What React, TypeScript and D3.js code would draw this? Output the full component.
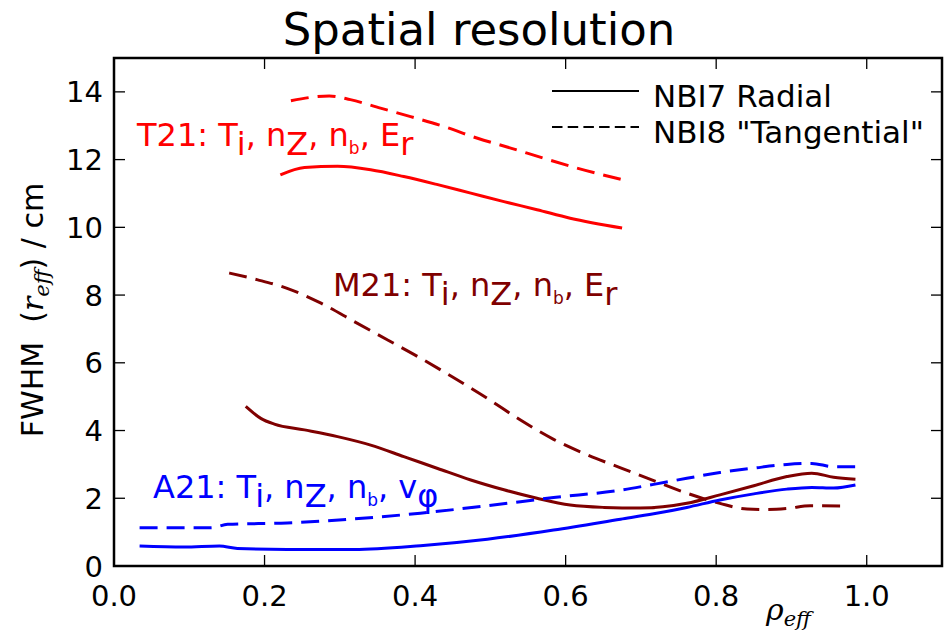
import React from "react";
import * as d3 from "d3";

// ---- data ----
const t21RadialRho = [0.221, 0.253, 0.297, 0.341, 0.385, 0.43, 0.474, 0.518, 0.562, 0.606, 0.675];
const t21RadialFwhm = [11.55, 11.77, 11.8, 11.7, 11.5, 11.26, 11.01, 10.76, 10.52, 10.27, 9.98];
const t21TangRho = [0.235, 0.286, 0.314, 0.354, 0.394, 0.438, 0.483, 0.527, 0.571, 0.615, 0.677];
const t21TangFwhm = [13.74, 13.88, 13.77, 13.52, 13.27, 12.98, 12.63, 12.34, 12.04, 11.75, 11.4];

const m21RadialRho = [0.175, 0.195, 0.213, 0.253, 0.297, 0.341, 0.385, 0.43, 0.474, 0.518, 0.562, 0.606, 0.651, 0.699, 0.761, 0.805, 0.85, 0.894, 0.927, 0.956, 0.985];
const m21RadialFwhm = [4.71, 4.36, 4.19, 4.02, 3.82, 3.57, 3.23, 2.88, 2.54, 2.25, 2.0, 1.8, 1.73, 1.71, 1.85, 2.1, 2.37, 2.64, 2.74, 2.62, 2.56];
const m21TangRho = [0.153, 0.191, 0.23, 0.275, 0.319, 0.363, 0.407, 0.452, 0.496, 0.54, 0.584, 0.629, 0.673, 0.717, 0.761, 0.805, 0.841, 0.867, 0.894, 0.925, 0.976];
const m21TangFwhm = [8.65, 8.45, 8.2, 7.76, 7.22, 6.68, 6.14, 5.55, 4.95, 4.31, 3.74, 3.28, 2.9, 2.52, 2.15, 1.85, 1.68, 1.67, 1.7, 1.78, 1.77];

const a21RadialRho = [0.034, 0.093, 0.14, 0.164, 0.23, 0.319, 0.407, 0.496, 0.584, 0.673, 0.717, 0.761, 0.805, 0.85, 0.894, 0.927, 0.956, 0.985];
const a21RadialFwhm = [0.59, 0.56, 0.59, 0.52, 0.49, 0.49, 0.6, 0.79, 1.06, 1.38, 1.54, 1.73, 1.95, 2.13, 2.27, 2.32, 2.3, 2.39];
const a21TangRho = [0.034, 0.129, 0.151, 0.23, 0.319, 0.407, 0.496, 0.584, 0.673, 0.717, 0.761, 0.805, 0.85, 0.894, 0.927, 0.956, 0.989];
const a21TangFwhm = [1.13, 1.13, 1.23, 1.27, 1.39, 1.56, 1.78, 2.02, 2.24, 2.41, 2.59, 2.76, 2.89, 3.0, 3.03, 2.93, 2.93];

const xTicks = [0.0, 0.2, 0.4, 0.6, 0.8, 1.0];
const yTicks = [0, 2, 4, 6, 8, 10, 12, 14];
const legendLabels = ["NBI7 Radial", "NBI8 \"Tangential\""];

const RED = "#ff0000";
const MAROON = "#7f0000";
const BLUE = "#0000ff";

const x = d3.scaleLinear().domain([0, 1.1]).range([114, 942]);
const y = d3.scaleLinear().domain([0, 15]).range([566, 58]);

const series = [
  { rho: t21RadialRho, v: t21RadialFwhm, color: RED, dashed: false },
  { rho: t21TangRho, v: t21TangFwhm, color: RED, dashed: true },
  { rho: m21RadialRho, v: m21RadialFwhm, color: MAROON, dashed: false },
  { rho: m21TangRho, v: m21TangFwhm, color: MAROON, dashed: true },
  { rho: a21RadialRho, v: a21RadialFwhm, color: BLUE, dashed: false },
  { rho: a21TangRho, v: a21TangFwhm, color: BLUE, dashed: true },
];

const lineGen = d3
  .line<[number, number]>()
  .x((d) => x(d[0]))
  .y((d) => y(d[1]))
  .curve(d3.curveMonotoneX);

const FONT = "DejaVu Sans, sans-serif";
const MATH = "DejaVu Serif, serif";

type Seg = { t: string; k?: "sub" | "small" };

function Label({ xPos, yPos, color, segs }: { xPos: number; yPos: number; color: string; segs: Seg[] }) {
  let cur = 0;
  return (
    <text x={xPos} y={yPos} fill={color} fontFamily={FONT} fontSize={32}>
      {segs.map((s, i) => {
        const target = s.k === "sub" ? 9 : s.k === "small" ? 8 : 0;
        const dy = target - cur;
        cur = target;
        return (
          <tspan key={i} dy={dy} fontSize={s.k === "small" ? 17 : 32}>
            {s.t}
          </tspan>
        );
      })}
    </text>
  );
}

export default function App() {
  const x0 = x(0), x1 = x(1.1), y0 = y(0), y1 = y(15);
  return (
    <svg
      width={946}
      height={631}
      style={{ position: "absolute", left: 0, top: 0, background: "#fff" }}
    >
      <rect x={0} y={0} width={946} height={631} fill="#fff" />
      <text x={479} y={45} textAnchor="middle" fontFamily={FONT} fontSize={45} fill="#000">
        Spatial resolution
      </text>

      <defs>
        <clipPath id="clip">
          <rect x={x0} y={y1} width={x1 - x0} height={y0 - y1} />
        </clipPath>
      </defs>

      {/* curves */}
      <g clipPath="url(#clip)">
        {series.map((s, i) => (
          <path
            key={i}
            d={lineGen(s.rho.map((r, j) => [r, s.v[j]] as [number, number])) || ""}
            fill="none"
            stroke={s.color}
            strokeWidth={3}
            strokeDasharray={s.dashed ? "18,9" : undefined}
          />
        ))}
      </g>

      {/* ticks */}
      {xTicks.map((t) => (
        <g key={"x" + t}>
          <line x1={x(t)} x2={x(t)} y1={y0} y2={y0 - 11} stroke="#000" strokeWidth={1.3} />
          <line x1={x(t)} x2={x(t)} y1={y1} y2={y1 + 11} stroke="#000" strokeWidth={1.3} />
          <text x={x(t)} y={606} textAnchor="middle" fontFamily={FONT} fontSize={29} fill="#000">
            {t.toFixed(1)}
          </text>
        </g>
      ))}
      {yTicks.map((t) => (
        <g key={"y" + t}>
          <line x1={x0} x2={x0 + 11} y1={y(t)} y2={y(t)} stroke="#000" strokeWidth={1.3} />
          <line x1={x1} x2={x1 - 11} y1={y(t)} y2={y(t)} stroke="#000" strokeWidth={1.3} />
          <text x={103} y={y(t) + 10.5} textAnchor="end" fontFamily={FONT} fontSize={29} fill="#000">
            {t}
          </text>
        </g>
      ))}

      {/* frame */}
      <rect x={x0} y={y1} width={x1 - x0} height={y0 - y1} fill="none" stroke="#000" strokeWidth={2.5} />

      {/* annotations */}
      <Label
        xPos={137}
        yPos={146}
        color={RED}
        segs={[{ t: "T21: T" }, { t: "i", k: "sub" }, { t: ", n" }, { t: "Z", k: "sub" }, { t: ", n" }, { t: "b", k: "small" }, { t: ", E" }, { t: "r", k: "sub" }]}
      />
      <Label
        xPos={333}
        yPos={296}
        color={MAROON}
        segs={[{ t: "M21: T" }, { t: "i", k: "sub" }, { t: ", n" }, { t: "Z", k: "sub" }, { t: ", n" }, { t: "b", k: "small" }, { t: ", E" }, { t: "r", k: "sub" }]}
      />
      <Label
        xPos={153}
        yPos={498}
        color={BLUE}
        segs={[{ t: "A21: T" }, { t: "i", k: "sub" }, { t: ", n" }, { t: "Z", k: "sub" }, { t: ", n" }, { t: "b", k: "small" }, { t: ", v" }, { t: "φ", k: "sub" }]}
      />

      {/* legend */}
      <line x1={552} x2={639} y1={91} y2={91} stroke="#000" strokeWidth={2} />
      <line x1={552} x2={639} y1={127} y2={127} stroke="#000" strokeWidth={2} strokeDasharray="10.5,5.2" />
      <text x={653} y={107} fontFamily={FONT} fontSize={31} fill="#000">{legendLabels[0]}</text>
      <text x={653} y={143} fontFamily={FONT} fontSize={31} fill="#000">{legendLabels[1]}</text>

      {/* axis labels */}
      <text
        transform="translate(43,310) rotate(-90)"
        textAnchor="middle"
        fontFamily={FONT}
        fontSize={30}
        fill="#000"
      >
        <tspan>{"FWHM\u00a0\u00a0("}</tspan>
        <tspan fontFamily={MATH} fontStyle="italic">r</tspan>
        <tspan fontFamily={MATH} fontStyle="italic" fontSize={21} dy={6}>eff</tspan>
        <tspan dy={-6}>{")\u00a0/\u00a0cm"}</tspan>
      </text>
      <text x={766} y={620} fontFamily={MATH} fontStyle="italic" fontSize={30} fill="#000">
        <tspan>ρ</tspan>
        <tspan fontSize={21} dy={6}>eff</tspan>
      </text>
    </svg>
  );
}
